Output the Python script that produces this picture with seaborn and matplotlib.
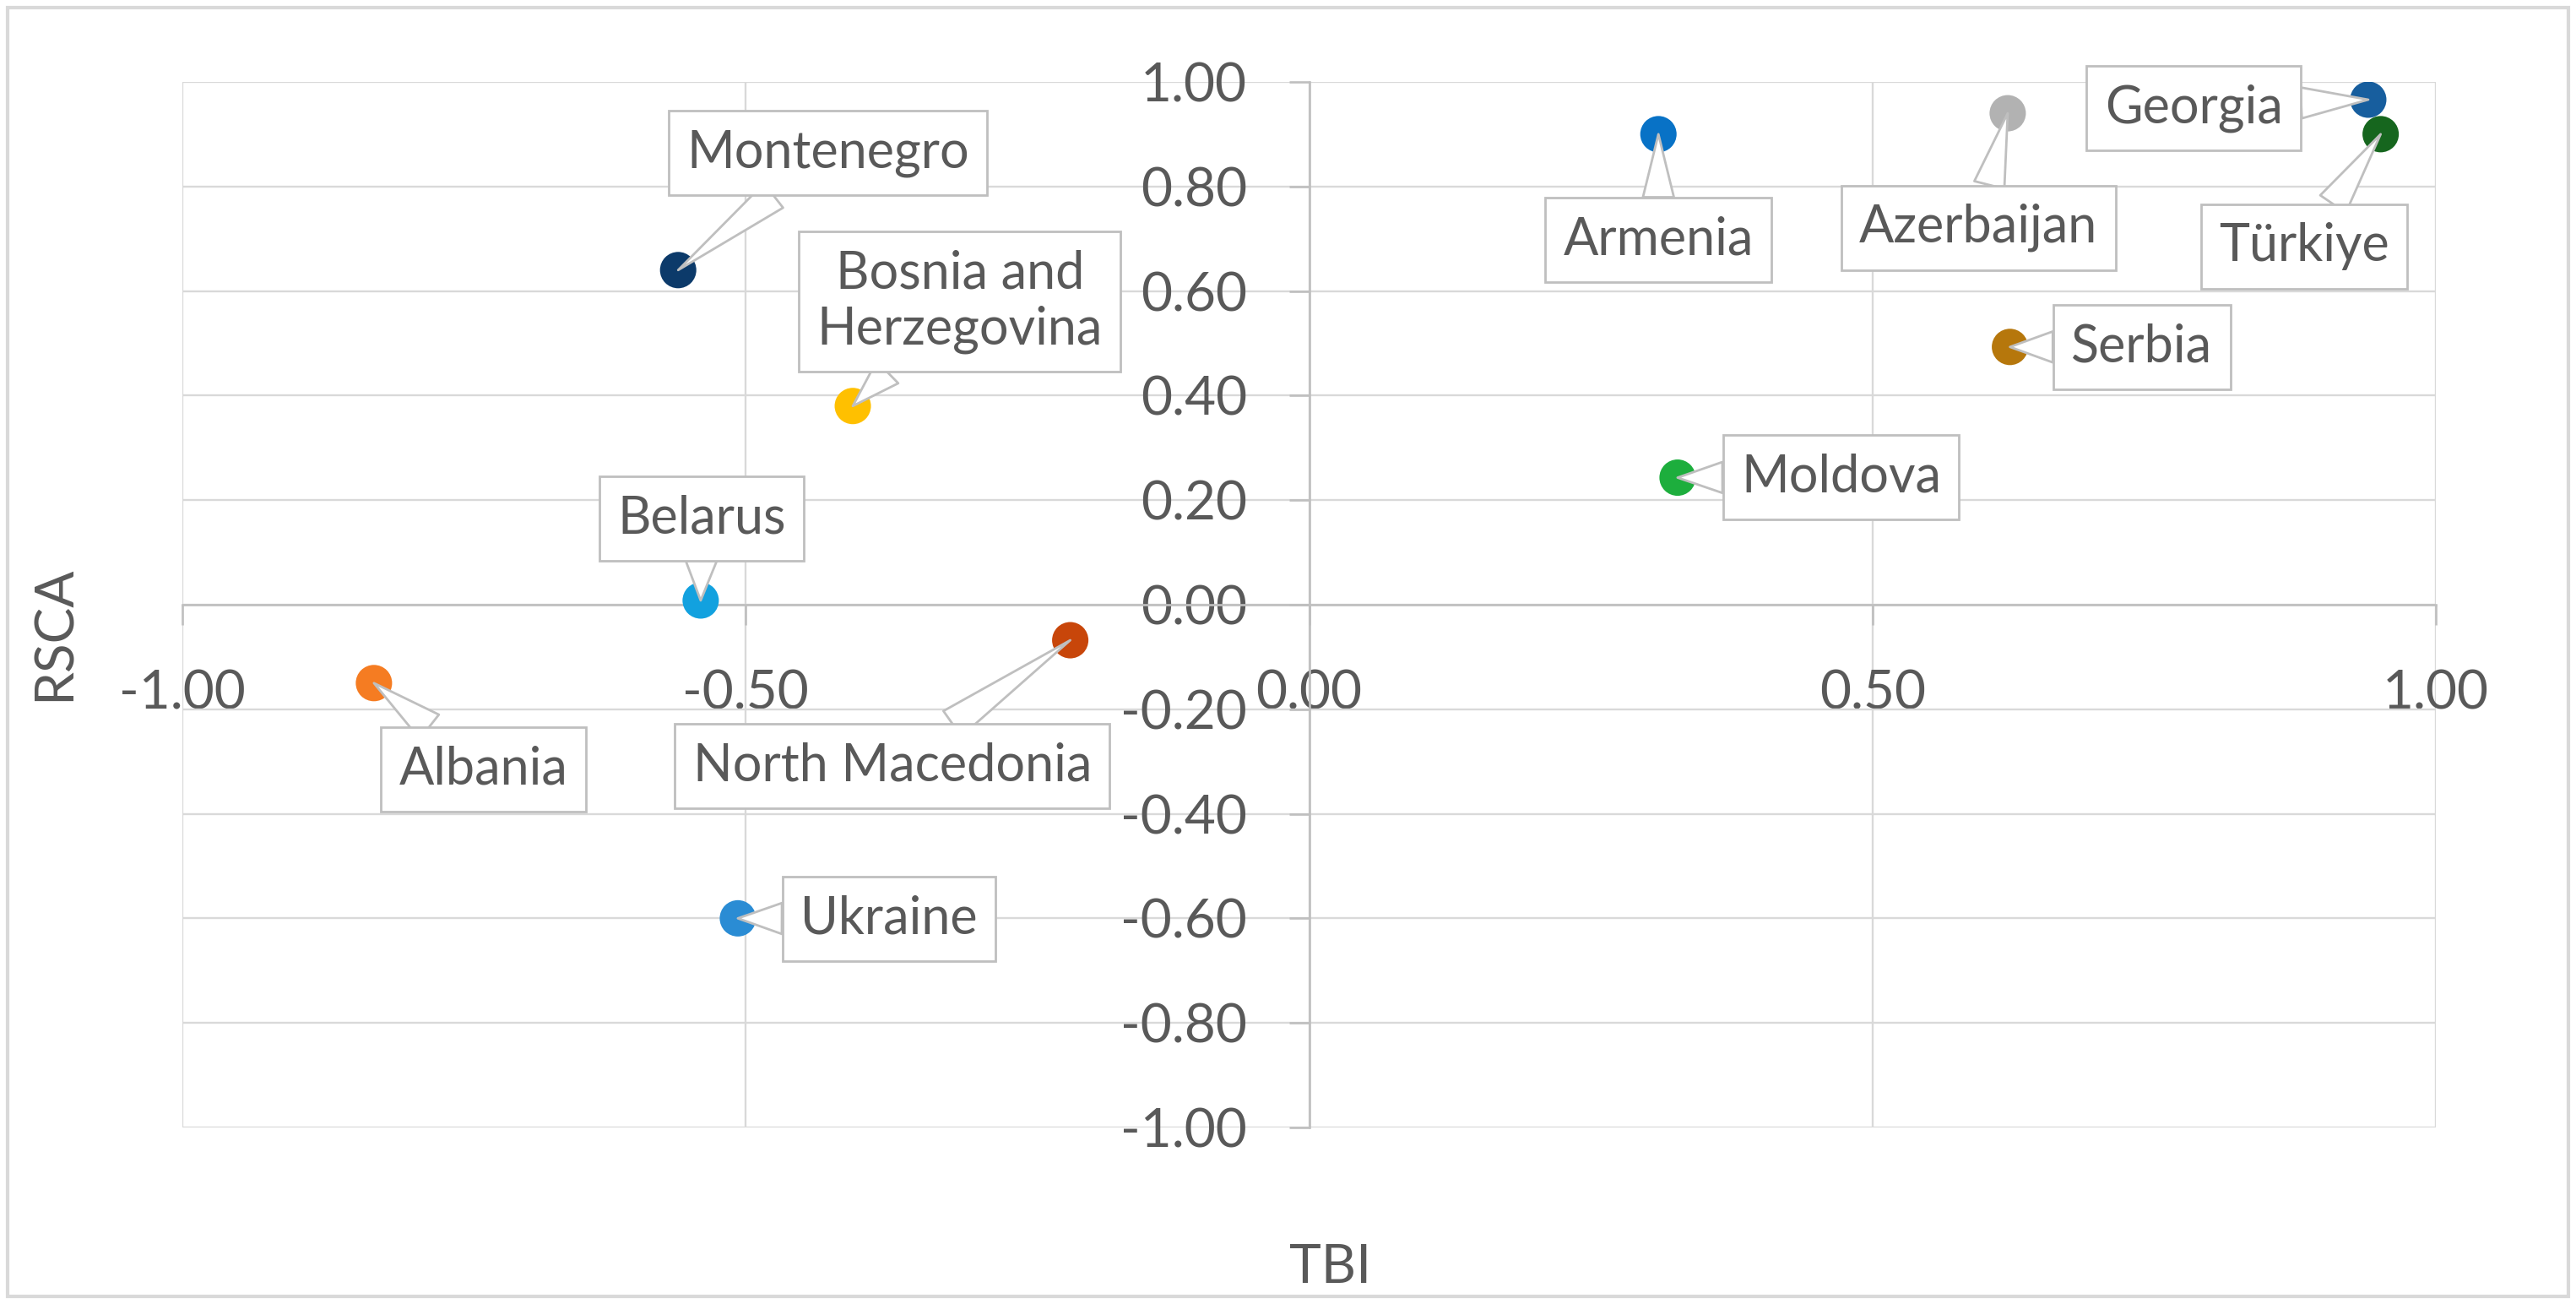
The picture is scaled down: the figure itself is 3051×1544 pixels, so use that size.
import numpy as np
import pandas as pd
import matplotlib
matplotlib.use('Agg')
import matplotlib.pyplot as plt
import matplotlib.ticker as mticker
from matplotlib.patches import Rectangle
import seaborn as sns

# values
countries = ["Albania", "Armenia", "Azerbaijan", "Belarus", "Bosnia and Herzegovina",
             "Georgia", "Moldova", "Montenegro", "North Macedonia", "Serbia",
             "Türkiye", "Ukraine"]
tbi = [-0.83, 0.31, 0.62, -0.54, -0.405, 0.94, 0.327, -0.56, -0.212, 0.622, 0.951, -0.507]
rsca = [-0.15, 0.90, 0.94, 0.008, 0.38, 0.966, 0.243, 0.64, -0.068, 0.493, 0.90, -0.60]

x_ticks = [-1.0, -0.5, 0.0, 0.5, 1.0]
y_ticks = [-1.0, -0.8, -0.6, -0.4, -0.2, 0.0, 0.2, 0.4, 0.6, 0.8, 1.0]

colors = {
    "Albania": "#F57C22",
    "Armenia": "#0872C6",
    "Azerbaijan": "#B2B2B2",
    "Belarus": "#12A1DF",
    "Bosnia and Herzegovina": "#FFC000",
    "Georgia": "#175E9E",
    "Moldova": "#1DAE3D",
    "Montenegro": "#0C3A6A",
    "North Macedonia": "#C8460A",
    "Serbia": "#B6770C",
    "Türkiye": "#16661E",
    "Ukraine": "#2A8CD4",
}

# callout box centres (layout only)
label_pos = {
    "Albania": (-0.733, -0.315),
    "Armenia": (0.310, 0.698),
    "Azerbaijan": (0.594, 0.721),
    "Belarus": (-0.539, 0.165),
    "Bosnia and Herzegovina": (-0.310, 0.580),
    "Georgia": (0.785, 0.950),
    "Moldova": (0.472, 0.244),
    "Montenegro": (-0.427, 0.864),
    "North Macedonia": (-0.370, -0.309),
    "Serbia": (0.739, 0.493),
    "Türkiye": (0.883, 0.685),
    "Ukraine": (-0.373, -0.601),
}
label_text = {"Bosnia and Herzegovina": "Bosnia and\nHerzegovina"}

df = pd.DataFrame({"country": countries, "TBI": tbi, "RSCA": rsca})

sns.set_theme(style="white")
plt.rcParams['font.family'] = ['Lato', 'DejaVu Sans']

grey_txt = "#595959"
grid_c = "#D9D9D9"
axis_c = "#BFBFBF"

fig = plt.figure(figsize=(15.255, 7.72), dpi=200)
ax = fig.add_axes([0.0708, 0.1354, 0.8748, 0.8018])

sns.scatterplot(data=df, x="TBI", y="RSCA", hue="country", palette=colors,
                s=240, linewidth=0, legend=False, ax=ax, zorder=3)

ax.set_xlim(-1, 1)
ax.set_ylim(-1, 1)
ax.set_xticks(x_ticks)
ax.set_yticks(y_ticks)
fmt = mticker.FuncFormatter(lambda v, p: f"{v:.2f}")
ax.xaxis.set_major_formatter(fmt)
ax.yaxis.set_major_formatter(fmt)

ax.grid(True, color=grid_c, linewidth=0.85)
for ln in ax.get_xgridlines() + ax.get_ygridlines():
    ln.set_clip_on(False)

ax.spines['left'].set_position('zero')
ax.spines['bottom'].set_position('zero')
ax.spines['top'].set_visible(False)
ax.spines['right'].set_visible(False)
for s in ['left', 'bottom']:
    ax.spines[s].set_color(axis_c)
    ax.spines[s].set_linewidth(0.95)
    ax.spines[s].set_zorder(2)

ax.tick_params(axis='y', direction='out', length=8.5, width=0.95, color=axis_c,
               pad=18, labelsize=23, labelcolor=grey_txt, left=True)
ax.tick_params(axis='x', direction='out', length=8.5, width=0.95, color=axis_c,
               pad=19, labelsize=23, labelcolor=grey_txt, bottom=True)

ax.set_xlabel("TBI", fontsize=23, color=grey_txt)
ax.set_ylabel("RSCA", fontsize=23, color=grey_txt)
ax.xaxis.set_label_coords(0.5095, -0.111)
ax.yaxis.set_label_coords(-0.046, 0.4725)

# callouts
for c, x, y in zip(countries, tbi, rsca):
    lx, ly = label_pos[c]
    ax.annotate(label_text.get(c, c), xy=(x, y), xytext=(lx, ly),
                ha='center', va='center', multialignment='center',
                fontsize=22, color=grey_txt, zorder=4,
                bbox=dict(boxstyle="square,pad=0.35", fc="white", ec=axis_c, lw=1.0),
                arrowprops=dict(arrowstyle="wedge,tail_width=0.6", fc="white",
                                ec=axis_c, lw=1.0, shrinkA=0, shrinkB=0))

# chart area border
fig.patches.append(Rectangle((0.003, 0.006), 0.994, 0.988, transform=fig.transFigure,
                             fill=False, ec=grid_c, lw=1.5))

fig.savefig("out.png", dpi=200)
